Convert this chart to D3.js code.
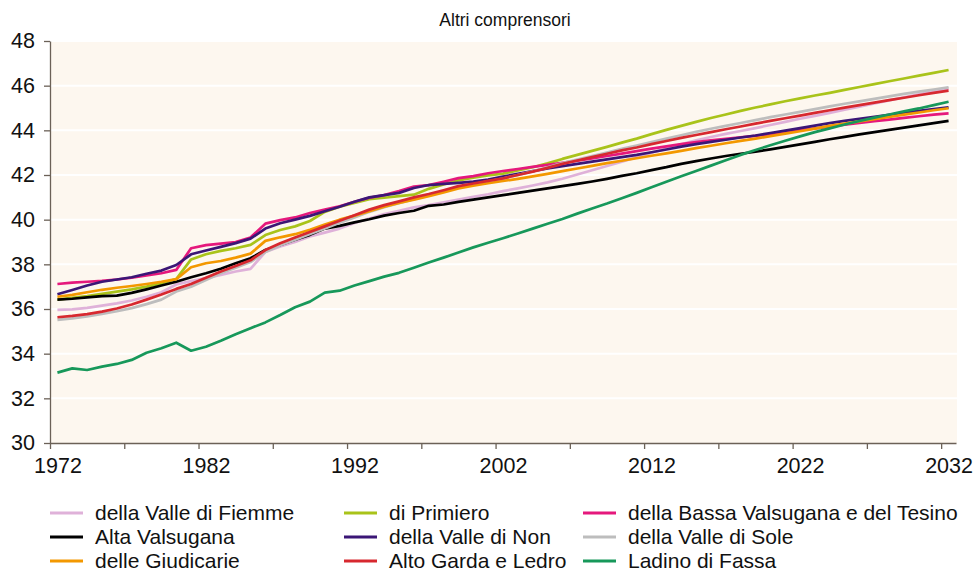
<!DOCTYPE html>
<html>
<head>
<meta charset="utf-8">
<script src="https://cdn.jsdelivr.net/npm/d3@7"></script>
<style>
  body { margin: 0; background: #fff; }
  svg text { font-family: "Liberation Sans", Arial, sans-serif; fill: #111; }
</style>
</head>
<body>
<div id="chart"></div>
<script>
const years = d3.range(1972, 2033);
const labelYears = [1972, 1982, 1992, 2002, 2012, 2022, 2032];
const yTicks = [30, 32, 34, 36, 38, 40, 42, 44, 46, 48];

const fiemme = [35.96, 35.98, 36.05, 36.15, 36.25, 36.38, 36.55, 36.75, 37.1, 37.25,
  37.38, 37.52, 37.68, 37.8, 38.55, 38.8, 39.0, 39.25, 39.42, 39.6,
  39.85, 40.05, 40.25, 40.4, 40.55, 40.65, 40.78, 40.9, 41.02, 41.14,
  41.28, 41.4, 41.53, 41.67, 41.83, 42.02, 42.21, 42.4, 42.6, 42.8,
  43.0, 43.18, 43.37, 43.55, 43.7, 43.84, 43.97, 44.1, 44.24, 44.38,
  44.52, 44.65, 44.78, 44.92, 45.06, 45.2, 45.34, 45.48, 45.61, 45.75, 45.88];
const primiero = [36.42, 36.5, 36.58, 36.68, 36.78, 36.88, 37.0, 37.15, 37.34, 38.22,
  38.45, 38.6, 38.72, 38.87, 39.31, 39.54, 39.7, 39.94, 40.35, 40.58,
  40.75, 40.92, 40.98, 41.05, 41.12, 41.38, 41.58, 41.76, 41.88, 41.98,
  42.06, 42.2, 42.35, 42.52, 42.72, 42.9, 43.08, 43.26, 43.45, 43.63,
  43.83, 44.02, 44.2, 44.38, 44.55, 44.71, 44.87, 45.02, 45.16, 45.3,
  45.43, 45.56, 45.68, 45.81, 45.94, 46.07, 46.2, 46.32, 46.45, 46.57, 46.7];
const bassaValsugana = [37.12, 37.18, 37.22, 37.26, 37.32, 37.4, 37.5, 37.6, 37.75, 38.72,
  38.86, 38.93, 39.0, 39.2, 39.82, 39.98, 40.1, 40.3, 40.45, 40.6,
  40.8, 40.98, 41.1, 41.28, 41.48, 41.55, 41.7, 41.86, 41.95, 42.08,
  42.18, 42.27, 42.36, 42.45, 42.54, 42.64, 42.74, 42.85, 42.96, 43.07,
  43.18, 43.28, 43.38, 43.47, 43.55, 43.62, 43.69, 43.75, 43.83, 43.92,
  44.01, 44.09, 44.17, 44.25, 44.33, 44.41, 44.48, 44.56, 44.63, 44.7, 44.76];
const altaValsugana = [36.42, 36.46, 36.52, 36.58, 36.6, 36.72, 36.88, 37.05, 37.22, 37.42,
  37.6, 37.8, 38.05, 38.27, 38.64, 38.87, 39.1, 39.32, 39.6, 39.72,
  39.88, 40.02, 40.18, 40.3, 40.4, 40.62, 40.68, 40.8, 40.9, 41.0,
  41.1, 41.2, 41.3, 41.4, 41.5, 41.6, 41.71, 41.83, 41.96, 42.08,
  42.22, 42.35, 42.5, 42.62, 42.74, 42.85, 42.95, 43.04, 43.15, 43.26,
  43.37, 43.48, 43.6, 43.71, 43.82, 43.92, 44.02, 44.12, 44.22, 44.32, 44.42];
const valleNon = [36.66, 36.85, 37.05, 37.22, 37.32, 37.42, 37.58, 37.72, 37.97, 38.45,
  38.62, 38.78, 38.95, 39.15, 39.6, 39.84, 40.0, 40.17, 40.38, 40.58,
  40.8, 41.0, 41.1, 41.2, 41.42, 41.55, 41.6, 41.65, 41.7, 41.8,
  41.93, 42.05, 42.17, 42.29, 42.4, 42.5, 42.6, 42.7, 42.8, 42.9,
  43.02, 43.14, 43.27, 43.38, 43.48, 43.58, 43.68, 43.77, 43.88, 43.99,
  44.1, 44.21, 44.32, 44.42, 44.51, 44.6, 44.69, 44.78, 44.87, 44.95, 45.03];
const valleSole = [35.51, 35.58, 35.67, 35.78, 35.9, 36.04, 36.22, 36.42, 36.78, 37.0,
  37.3, 37.6, 37.85, 38.1, 38.55, 38.85, 39.1, 39.36, 39.6, 39.86,
  40.1, 40.35, 40.56, 40.74, 40.92, 41.08, 41.26, 41.44, 41.58, 41.72,
  41.84, 42.0, 42.16, 42.34, 42.53, 42.69, 42.85, 43.01, 43.17, 43.32,
  43.48, 43.63, 43.78, 43.93, 44.07, 44.2, 44.33, 44.46, 44.59, 44.71,
  44.83, 44.95, 45.07, 45.19, 45.3, 45.41, 45.52, 45.63, 45.73, 45.83, 45.93];
const giudicarie = [36.55, 36.63, 36.75, 36.86, 36.95, 37.03, 37.12, 37.22, 37.34, 37.87,
  38.05, 38.15, 38.3, 38.48, 39.05, 39.21, 39.35, 39.55, 39.78, 40.0,
  40.18, 40.38, 40.58, 40.75, 40.9, 41.05, 41.22, 41.4, 41.52, 41.63,
  41.73, 41.83, 41.94, 42.05, 42.17, 42.29, 42.41, 42.53, 42.64, 42.75,
  42.86, 42.97, 43.08, 43.2, 43.31, 43.42, 43.53, 43.63, 43.74, 43.85,
  43.96, 44.08, 44.2, 44.3, 44.4, 44.5, 44.6, 44.7, 44.8, 44.9, 44.99];
const altoGarda = [35.63, 35.69, 35.77, 35.88, 36.02, 36.2, 36.42, 36.65, 36.9, 37.12,
  37.4, 37.68, 37.93, 38.18, 38.64, 38.94, 39.2, 39.45, 39.7, 39.95,
  40.2, 40.45, 40.65, 40.82, 41.0, 41.15, 41.32, 41.5, 41.62, 41.74,
  41.85, 42.0, 42.15, 42.32, 42.5, 42.65, 42.8, 42.95, 43.1, 43.23,
  43.38, 43.52, 43.66, 43.79, 43.92, 44.05, 44.17, 44.3, 44.42, 44.54,
  44.66, 44.78, 44.9, 45.02, 45.13, 45.24, 45.35, 45.46, 45.57, 45.68, 45.78];
const ladinoFassa = [33.15, 33.34, 33.27, 33.42, 33.54, 33.72, 34.04, 34.24, 34.49, 34.13,
  34.31, 34.58, 34.87, 35.14, 35.4, 35.73, 36.08, 36.33, 36.73, 36.82,
  37.05, 37.25, 37.45, 37.62, 37.85, 38.08, 38.3, 38.53, 38.76, 38.97,
  39.17, 39.38, 39.6, 39.82, 40.03, 40.27, 40.5, 40.72, 40.96, 41.2,
  41.45, 41.7, 41.94, 42.18, 42.42, 42.66, 42.9, 43.12, 43.33, 43.53,
  43.73, 43.92, 44.09, 44.26, 44.42, 44.57, 44.71, 44.85, 44.98, 45.13, 45.28];

const seriesNames = ["della Valle di Fiemme", "di Primiero", "della Bassa Valsugana e del Tesino",
  "Alta Valsugana", "della Valle di Non", "della Valle di Sole",
  "delle Giudicarie", "Alto Garda e Ledro", "Ladino di Fassa"];
const seriesValues = [fiemme, primiero, bassaValsugana, altaValsugana, valleNon, valleSole,
  giudicarie, altoGarda, ladinoFassa];
const seriesColors = ["#dfb1d9", "#a9c31a", "#e5187c", "#000000", "#3b1676", "#bdbdbd",
  "#f39800", "#d7282f", "#17985a"];

const series = seriesNames.map((name, i) => ({
  name,
  color: seriesColors[i],
  values: years.map((year, j) => ({ year, value: seriesValues[i][j] })),
}));

const size = { width: 975, height: 572 };
const plot = { left: 50, right: 957, top: 41, bottom: 443 };

const svg = d3.select("#chart")
  .append("svg")
  .attr("width", size.width)
  .attr("height", size.height);

// category axis: each year gets one slot, lines go through the slot centres
const x = d3.scaleLinear()
  .domain([1971.5, 2032.5])
  .range([plot.left, plot.right - 1]);

const y = d3.scaleLinear()
  .domain([30, 48])
  .range([plot.bottom, plot.top]);

svg.append("rect")
  .attr("x", plot.left)
  .attr("y", plot.top)
  .attr("width", plot.right - plot.left)
  .attr("height", plot.bottom - plot.top)
  .attr("fill", "#fdf7ef");

svg.append("g")
  .selectAll("line")
  .data(yTicks.filter((d) => d > 30))
  .join("line")
  .attr("x1", plot.left)
  .attr("x2", plot.right)
  .attr("y1", (d) => y(d))
  .attr("y2", (d) => y(d))
  .attr("stroke", "#ffffff")
  .attr("stroke-width", 2);

svg.append("text")
  .attr("x", 505)
  .attr("y", 26)
  .attr("text-anchor", "middle")
  .style("font-size", "17.5px")
  .text("Altri comprensori");

const line = d3.line()
  .x((d) => x(d.year))
  .y((d) => y(d.value));

svg.append("g")
  .selectAll("path")
  .data(series)
  .join("path")
  .attr("fill", "none")
  .attr("stroke", (d) => d.color)
  .attr("stroke-width", 2.7)
  .attr("stroke-linejoin", "round")
  .attr("d", (d) => line(d.values));

// y axis
const yAxis = svg.append("g")
  .attr("transform", `translate(${plot.left},0)`)
  .call(d3.axisLeft(y).tickValues(yTicks).tickSize(6).tickSizeOuter(0).tickPadding(9));
yAxis.select(".domain").attr("stroke", "#6b6157").attr("stroke-width", 1.3);
yAxis.selectAll(".tick line").attr("stroke", "#6b6157").attr("stroke-width", 1.3);
yAxis.selectAll("text").style("font-size", "21.5px").attr("fill", "#111");

// x axis: tick marks between categories, labels every 10 years
const xTicks = svg.append("g")
  .attr("transform", `translate(0,${plot.bottom})`)
  .call(d3.axisBottom(x).tickValues(d3.range(1971.5, 2033, 5)).tickSize(6).tickSizeOuter(0).tickFormat(""));
xTicks.select(".domain").attr("stroke", "#6b6157").attr("stroke-width", 1.3);
xTicks.selectAll(".tick line").attr("stroke", "#6b6157").attr("stroke-width", 1.3);

const xLabels = svg.append("g")
  .attr("transform", `translate(0,${plot.bottom})`)
  .call(d3.axisBottom(x).tickValues(labelYears).tickSize(0).tickPadding(15).tickFormat((d) => d));
xLabels.select(".domain").remove();
xLabels.selectAll("text").style("font-size", "21.5px").attr("fill", "#111");

// legend, three columns
const legendCols = [50, 344, 583];
const legendRows = [513, 537, 561];
const legend = svg.append("g")
  .selectAll("g")
  .data(series)
  .join("g")
  .attr("transform", (d, i) => `translate(${legendCols[i % 3]},${legendRows[Math.floor(i / 3)]})`);

legend.append("line")
  .attr("x1", 0)
  .attr("x2", 33)
  .attr("stroke", (d) => d.color)
  .attr("stroke-width", 3);

legend.append("text")
  .attr("x", 45)
  .attr("dy", "0.35em")
  .style("font-size", "21px")
  .text((d) => d.name);
</script>
</body>
</html>
